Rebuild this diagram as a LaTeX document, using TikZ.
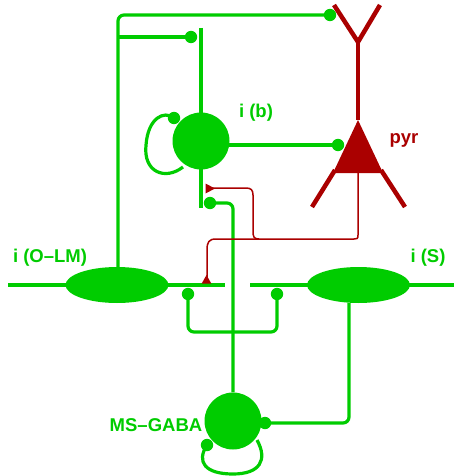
\documentclass[tikz,border=0pt]{standalone}
\usepackage{fontspec}
\setmainfont{Liberation Sans}
\usetikzlibrary{shapes.geometric}
\definecolor{gr}{RGB}{0,204,0}
\definecolor{dr}{RGB}{170,0,0}
\begin{document}
\begin{tikzpicture}[x=1pt,y=-1pt,
  gline/.style={draw=gr,line width=3.6pt},
  gthin/.style={draw=gr,line width=3.2pt,rounded corners=6pt},
  rline/.style={draw=dr,line width=4.5pt},
  rthin/.style={draw=dr,line width=1.5pt},
  soma/.style={fill=gr,draw=none,inner sep=0pt},
  lbl/.style={font=\fontsize{18.5}{20}\selectfont\bfseries,text=gr,inner sep=0pt}]
\useasboundingbox (0,0) rectangle (454,476);

% somata
\node[soma,circle,minimum size=57pt] (ib) at (201,141) {};
\node[soma,ellipse,minimum width=103pt,minimum height=36pt] (olm) at (117,285) {};
\node[soma,ellipse,minimum width=103pt,minimum height=36pt] (is) at (358.5,285) {};
\node[soma,circle,minimum size=57pt] (ms) at (233,421) {};

% coordinates
\coordinate (ibtop) at (201,28);
\coordinate (ibbot) at (201,208);
\coordinate (olmL) at (8,285);
\coordinate (olmR) at (225,285);
\coordinate (isL) at (250,285);
\coordinate (isR) at (454,285);
\coordinate (dTop) at (330,15);
\coordinate (dBr) at (191,37);
\coordinate (dPyr) at (338,145);
\coordinate (dIbA) at (174,118);
\coordinate (dIbB) at (210,203);
\coordinate (dOlm) at (188,294);
\coordinate (dIs) at (277,294);
\coordinate (dMsR) at (265,423);
\coordinate (dMsA) at (207,445);
\coordinate (apex) at (358,120);
\coordinate (bl) at (333,173);
\coordinate (br) at (383,173);
\coordinate (fork) at (358,42);
\coordinate (tl) at (334,5);
\coordinate (tr) at (380,5);

% green processes
\draw[gline] (ibtop) -- (ibbot);
\draw[gline] (olmL) -- (olmR);
\draw[gline] (isL) -- (isR);
\draw[gthin] (olm.north -| 118,0) -- (118,15) -- (dTop);
\draw[gthin] (118,37) -- (dBr);
\draw[gthin] (225,145) -- (dPyr);
\draw[gthin] (ms.north) -- (233,203) -- (dIbB);
\draw[gthin] (dOlm) -- (188,332) -- (277,332) -- (dIs);
\draw[gthin] (dMsR) -- (349,423) -- (is.south -| 349,0);
\draw[gr,line width=3.2pt] (183,167) .. controls (165,181) and (143,172) .. (146,145)
  .. controls (148,118) and (164,110) .. (dIbA);
\draw[gr,line width=3.2pt] (dMsA) .. controls (196,462) and (205,474) .. (233,474)
  .. controls (260,474) and (268,460) .. (257,440);

% dots
\foreach \d in {dTop,dBr,dPyr,dIbA,dIbB,dOlm,dIs,dMsR,dMsA}
  \fill[gr] (\d) circle[radius=6.2pt];

% pyramidal cell
\fill[dr] (apex) -- (br) -- (bl) -- cycle;
\draw[rline] (apex) -- (fork);
\draw[rline] (tl) -- (fork) -- (tr);
\draw[rline] (335,170) -- (312,207);
\draw[rline] (381,170) -- (405,207);
\draw[rthin] (358,173) -- (358,235) .. controls (358,239) and (357,239) .. (354,239)
  -- (216,239) .. controls (209,239) and (207,242) .. (207,250) -- (207,278);
\draw[rthin] (259,239) .. controls (254,239) and (253,237) .. (253,231) -- (253,195)
  .. controls (253,190) and (251,188) .. (246,188) -- (210,188);
\fill[dr] (206.5,275) -- (211.3,283.5) -- (201.7,283.5) -- cycle;
\fill[dr] (205.5,183.5) -- (205.5,193.5) -- (215,188.5) -- cycle;

% labels
\node[lbl] (tib) at (256,113) {i (b)};
\node[lbl,text=dr] (tpyr) at (404,140) {pyr};
\node[lbl] (tolm) at (50,258) {i (O–LM)};
\node[lbl] (tis) at (428,258) {i (S)};
\node[lbl] (tms) at (156,425) {MS–GABA};
\end{tikzpicture}
\end{document}
